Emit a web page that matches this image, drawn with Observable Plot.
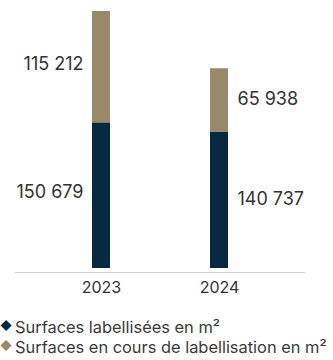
<!DOCTYPE html>
<html>
<head>
<meta charset="utf-8">
<script src="https://cdn.jsdelivr.net/npm/d3@7"></script>
<script src="https://cdn.jsdelivr.net/npm/@observablehq/plot@0.6"></script>
<style>
  html, body { margin: 0; padding: 0; background: #fff; }
  body { width: 333px; height: 360px; overflow: hidden; font-family: Inter, sans-serif; }
  #legend { font-family: Inter, sans-serif; font-size: 16.4px; color: #3a3a3a; margin-top: 17px; }
  #legend div { display: flex; align-items: center; height: 20px; white-space: nowrap; }
  #legend span.sw { display: inline-block; width: 15px; font-size: 11.5px; margin-left: 0; line-height: 1; }
</style>
</head>
<body>
<div id="chart"></div>
<div id="legend"></div>
<script>
const years = ["2023", "2024"];
const series = ["Surfaces labellisées en m²", "Surfaces en cours de labellisation en m²"];
const labellisees = [150679, 140737];
const enCours = [115212, 65938];
const colors = ["#07293f", "#99896b"];

const rows = [];
years.forEach((yr, i) => {
  rows.push({year: yr, serie: series[0], value: labellisees[i]});
  rows.push({year: yr, serie: series[1], value: enCours[i]});
});

const fmt = d3.formatLocale({decimal: ",", thousands: " ", grouping: [3], currency: ["", ""]}).format(",d");

const chart = Plot.plot({
  width: 333,
  height: 300,
  marginTop: 11,
  marginBottom: 32,
  marginLeft: 15,
  marginRight: 28,
  style: {fontFamily: "Inter, sans-serif", color: "#333", background: "#fff"},
  x: {domain: years, paddingInner: 0.849, paddingOuter: 0.643, label: null},
  y: {domain: [0, d3.max(years, (_, i) => labellisees[i] + enCours[i])], axis: null},
  color: {domain: series, range: colors},
  marks: [
    Plot.barY(rows, Plot.stackY({x: "year", y: "value", fill: "serie", order: series})),
    Plot.text(rows.filter(d => d.year === years[0]), Plot.stackY({x: "year", y: "value", z: "serie", order: series, text: d => fmt(d.value), textAnchor: "end", dx: -18, dy: -3, fontSize: 18, fill: "#333"})),
    Plot.text(rows.filter(d => d.year === years[1]), Plot.stackY({x: "year", y: "value", z: "serie", order: series, text: d => fmt(d.value), textAnchor: "start", dx: 18, dy: -1, fontSize: 18, fill: "#333"})),
    Plot.ruleY([0], {dy: 4, stroke: "#cfcfcf", strokeWidth: 1.2}),
    Plot.axisX({tickSize: 0, tickPadding: 13, fontSize: 16, label: null, fill: "#333"})
  ]
});
document.getElementById("chart").appendChild(chart);

const legend = document.getElementById("legend");
series.forEach((s, i) => {
  const row = document.createElement("div");
  const sw = document.createElement("span");
  sw.className = "sw";
  sw.style.color = colors[i];
  sw.textContent = "◆";
  const t = document.createElement("span");
  t.textContent = s;
  row.appendChild(sw);
  row.appendChild(t);
  legend.appendChild(row);
});
</script>
</body>
</html>
